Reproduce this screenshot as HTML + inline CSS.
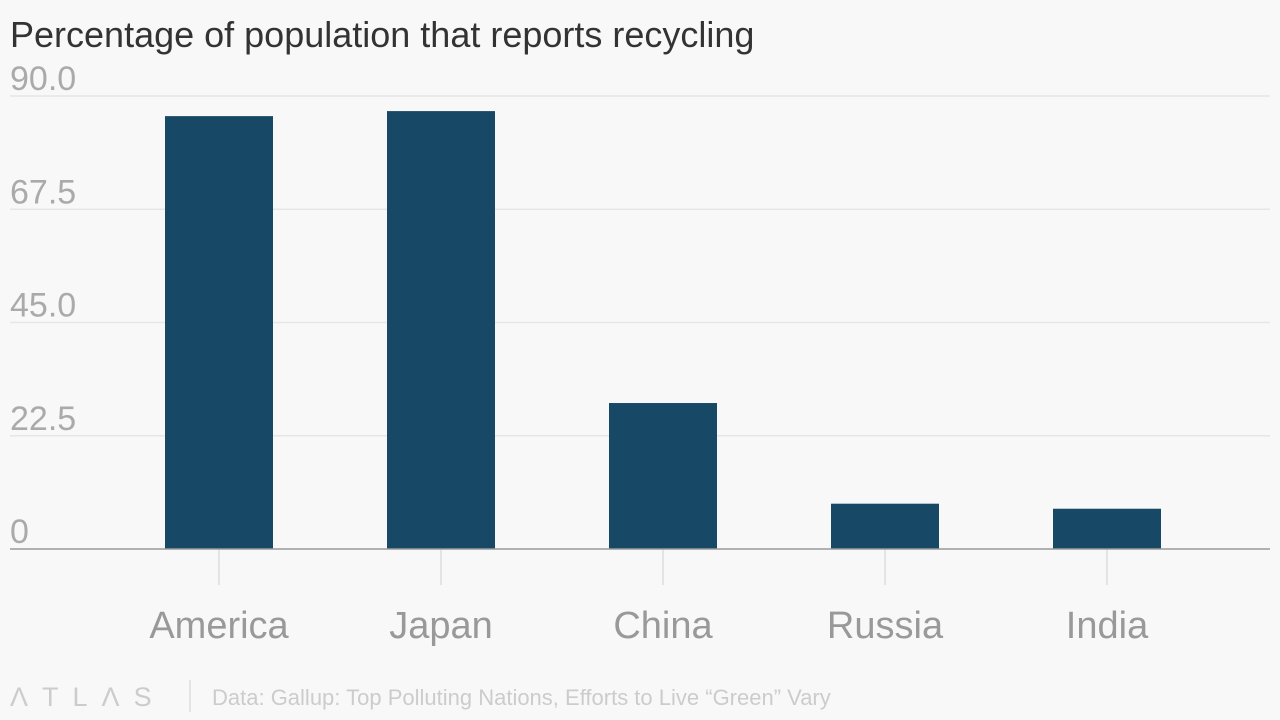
<!DOCTYPE html>
<html><head><meta charset="utf-8"><style>
body{margin:0;background:#f8f8f8;font-family:"Liberation Sans",sans-serif;}
#wrap{position:relative;width:1280px;height:720px;overflow:hidden;}
</style></head><body>
<div id="wrap">
<svg id="chart" width="1280" height="720">
<text x="10" y="47" font-size="36" fill="#333">Percentage of population that reports recycling</text>
<g id="grid"></g><g id="bars"></g><g id="xaxis"></g>
<g>
<text x="10" y="706" font-size="27" fill="#ccc" letter-spacing="14">ΛTLΛS</text>
<line x1="190" y1="680" x2="190" y2="712" stroke="#ddd" stroke-width="1.5"/>
<text x="212" y="705" font-size="22" fill="#ccc">Data: Gallup: Top Polluting Nations, Efforts to Live “Green” Vary</text>
</g>
</svg>
</div>
<script>
const categories=["America","Japan","China","Russia","India"];
const values=[86,87,29,9,8];
const yTicks=[0,22.5,45,67.5,90];
const yTickLabels=["0","22.5","45.0","67.5","90.0"];
const NS="http://www.w3.org/2000/svg";
const y0=549,yTop=96,yMax=90,xL=108,xR=1218;
const y=v=>y0-(v/yMax)*(y0-yTop);
const band=(xR-xL)/categories.length;
const x=i=>xL+band*i+band/2;
const bw=108;
function mk(t,a,p){const e=document.createElementNS(NS,t);for(const k in a)e.setAttribute(k,a[k]);p.appendChild(e);return e;}
const grid=document.getElementById('grid'),bars=document.getElementById('bars'),xa=document.getElementById('xaxis');
yTicks.forEach((v,i)=>{
 if(v!==0){const l=mk('line',{x1:10,x2:1270,y1:y(v),y2:y(v),stroke:'#e6e6e6','stroke-width':1.5},grid);
 
 }
 const t=mk('text',{x:10,y:y(v)-6,'font-size':34,fill:'#aaa'},grid);
 
 
 t.textContent=yTickLabels[i];
});
categories.forEach((c,i)=>{
 const r=mk('rect',{x:x(i)-bw/2,y:y(values[i]),width:bw,height:y0-y(values[i]),fill:'#174866'},bars);
 
 
 const tk=mk('line',{x1:x(i),x2:x(i),y1:y0,y2:585,stroke:'#ddd','stroke-width':1.5},xa);
 
 
 const t=mk('text',{x:x(i),y:638,'font-size':38,fill:'#999','text-anchor':'middle'},xa);
 
 
 t.textContent=c;
});
const base=mk('line',{x1:10,x2:1270,y1:y0,y2:y0,stroke:'#999','stroke-width':1.5},xa);


</script>
</body></html>
